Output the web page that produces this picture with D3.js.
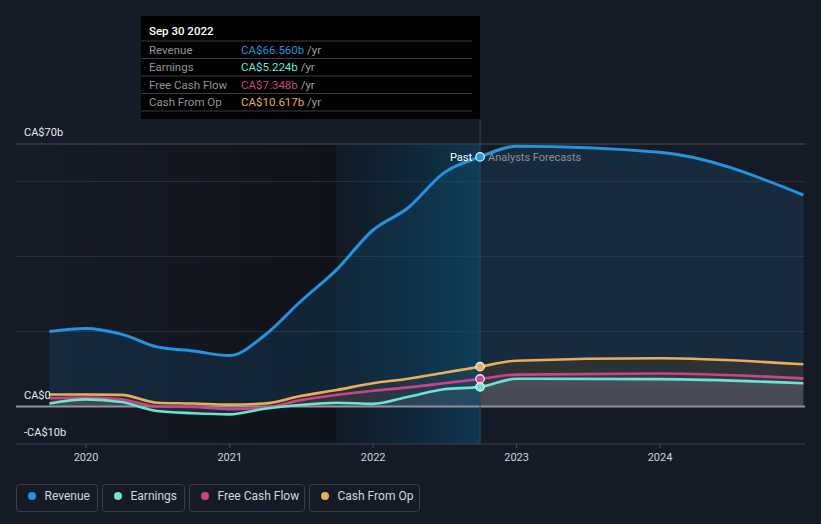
<!DOCTYPE html>
<html>
<head>
<meta charset="utf-8">
<script src="https://cdn.jsdelivr.net/npm/d3@7/dist/d3.min.js"></script>
<style>
  html, body { margin: 0; padding: 0; background: #151b26; }
  svg { display: block; font-family: Roboto, "Noto Sans", sans-serif; }
</style>
</head>
<body>
<svg id="chart" width="821" height="524"></svg>
<script>
// ---------- DATA ----------
const pastDates = ["2019-09-30","2019-12-31","2020-03-31","2020-06-30","2020-09-30","2020-12-31",
  "2021-03-31","2021-06-30","2021-09-30","2021-12-31","2022-03-31","2022-06-30","2022-09-30"];
const revenuePast  = [20.0, 20.8, 19.3, 15.9, 14.8, 13.6, 19.0, 28.0, 36.5, 47.0, 53.0, 62.3, 66.56];
const earningsPast = [0.8, 1.9, 1.2, -1.2, -1.8, -2.1, -0.6, 0.4, 1.0, 0.7, 2.6, 4.6, 5.224];
const fcfPast      = [2.2, 2.4, 1.9, 0.0, -0.1, -0.7, -0.3, 1.7, 3.1, 4.2, 5.1, 6.2, 7.348];
const cfoPast      = [3.2, 3.2, 3.1, 1.0, 0.8, 0.5, 0.8, 2.8, 4.4, 6.2, 7.4, 9.0, 10.617];

const forecastDates = ["2022-12-31","2023-12-31","2024-12-31"];
const revenueForecast  = [69.4, 67.8, 56.4];
const earningsForecast = [7.4, 7.3, 6.2];
const fcfForecast      = [8.5, 8.8, 7.5];
const cfoForecast      = [12.2, 12.85, 11.25];

const seriesNames = ["Revenue", "Earnings", "Free Cash Flow", "Cash From Op"];
const tooltipDate = "Sep 30 2022";
const tooltipValues = ["CA$66.560b", "CA$5.224b", "CA$7.348b", "CA$10.617b"];
const yGridValues = [60, 40, 20];
const yLabelValues = [70, 0, -10];
const yLabelText = ["CA$70b", "CA$0", "-CA$10b"];
const xTickYears = ["2020","2021","2022","2023","2024"];

// ---------- SETUP ----------
const colors = { rev: "#2394df", earn: "#6de4d2", fcf: "#c7468a", cfo: "#e9ae5b" };
const svg = d3.select("#chart");
const parse = d3.utcParse("%Y-%m-%d");
const plotL = 16, plotR = 805, plotT = 144, plotB = 444;

const x = d3.scaleUtc().domain([parse("2020-01-01"), parse("2024-01-01")]).range([86, 660]);
const y = d3.scaleLinear().domain([-10, 70]).range([plotB, plotT]);

function build(pv, fv) {
  const a = pastDates.map((d, i) => ({ date: parse(d), v: pv[i] }));
  const b = forecastDates.map((d, i) => ({ date: parse(d), v: fv[i] }));
  return a.concat(b);
}
const rev = build(revenuePast, revenueForecast);
const earn = build(earningsPast, earningsForecast);
const fcf = build(fcfPast, fcfForecast);
const cfo = build(cfoPast, cfoForecast);

const lastPast = parse(pastDates[pastDates.length - 1]);
const xPast = x(lastPast);
const xBand0 = x(parse("2021-09-30"));

const defs = svg.append("defs");
const g1 = defs.append("linearGradient").attr("id", "pastShade").attr("x1", "0").attr("x2", "1").attr("y1", "0").attr("y2", "0");
g1.append("stop").attr("offset", "0").attr("stop-color", "#000").attr("stop-opacity", 0);
g1.append("stop").attr("offset", "1").attr("stop-color", "#000").attr("stop-opacity", 0.3);
const g2 = defs.append("linearGradient").attr("id", "bandShade").attr("x1", "0").attr("x2", "1").attr("y1", "0").attr("y2", "0");
g2.append("stop").attr("offset", "0").attr("stop-color", "#0a3a52").attr("stop-opacity", 0.1);
g2.append("stop").attr("offset", "1").attr("stop-color", "#0a4f72").attr("stop-opacity", 0.6);
const g3 = defs.append("linearGradient").attr("id", "earnFill").attr("x1", "0").attr("x2", "0").attr("y1", "0").attr("y2", "1");
g3.append("stop").attr("offset", "0").attr("stop-color", "#8aa0ad").attr("stop-opacity", 0.25);
g3.append("stop").attr("offset", "1").attr("stop-color", "#8aa0ad").attr("stop-opacity", 0.12);

// background shading for past region
svg.append("rect").attr("x", plotL).attr("y", plotT).attr("width", xBand0 - plotL).attr("height", plotB - plotT)
  .attr("fill", "url(#pastShade)");
svg.append("rect").attr("x", xBand0).attr("y", plotT).attr("width", xPast - xBand0).attr("height", plotB - plotT)
  .attr("fill", "#0b0e13").attr("opacity", 0.3);

// gridlines
svg.selectAll(".grid").data(yGridValues).enter().append("line")
  .attr("x1", plotL).attr("x2", plotR).attr("y1", d => y(d)).attr("y2", d => y(d))
  .attr("stroke", "#262d39").attr("stroke-width", 1);
svg.append("line").attr("x1", plotL).attr("x2", plotR).attr("y1", y(70)).attr("y2", y(70))
  .attr("stroke", "#4a505a").attr("stroke-width", 1);

const curve = d3.curveMonotoneX;
const area = d3.area().x(d => x(d.date)).y0(y(0)).y1(d => y(d.v)).curve(curve);
const line = d3.line().x(d => x(d.date)).y(d => y(d.v)).curve(curve);

// areas
svg.append("path").attr("d", area(rev)).attr("fill", colors.rev).attr("fill-opacity", 0.13);
svg.append("path").attr("d", area(cfo)).attr("fill", "#6a4d1b").attr("fill-opacity", 0.25);
svg.append("path").attr("d", area(fcf)).attr("fill", "#764d7c").attr("fill-opacity", 0.15);
svg.append("path").attr("d", area(earn)).attr("fill", "url(#earnFill)");

// highlight band (last year of past)
svg.append("rect").attr("x", xBand0).attr("y", plotT + 0.5).attr("width", xPast - xBand0).attr("height", plotB - plotT - 0.5)
  .attr("fill", "url(#bandShade)");

// zero & bottom lines
svg.append("line").attr("x1", plotL).attr("x2", plotR).attr("y1", y(-10)).attr("y2", y(-10))
  .attr("stroke", "#3c424c").attr("stroke-width", 1);
svg.append("line").attr("x1", plotL).attr("x2", plotR).attr("y1", y(0)).attr("y2", y(0))
  .attr("stroke", "#8f949b").attr("stroke-width", 2);

// lines
svg.append("path").attr("d", line(cfo)).attr("fill", "none").attr("stroke", colors.cfo).attr("stroke-width", 2.6);
svg.append("path").attr("d", line(fcf)).attr("fill", "none").attr("stroke", colors.fcf).attr("stroke-width", 2.6);
svg.append("path").attr("d", line(earn)).attr("fill", "none").attr("stroke", colors.earn).attr("stroke-width", 2.6);
svg.append("path").attr("d", line(rev)).attr("fill", "none").attr("stroke", colors.rev).attr("stroke-width", 3);

// x axis
const xAxisG = svg.append("g").attr("transform", `translate(0,${plotB})`);
xAxisG.selectAll("line.tick").data(xTickYears).enter().append("line")
  .attr("x1", d => x(parse(d + "-01-01"))).attr("x2", d => x(parse(d + "-01-01")))
  .attr("y1", 0).attr("y2", 4).attr("stroke", "#4a505a");
xAxisG.selectAll("text").data(xTickYears).enter().append("text")
  .attr("x", d => x(parse(d + "-01-01"))).attr("y", 17)
  .attr("text-anchor", "middle").attr("font-size", 11).attr("fill", "#cfd3d8").text(d => d);

// y labels
svg.selectAll(".ylab").data(yLabelValues).enter().append("text")
  .attr("x", 24).attr("y", (d, i) => y(d) - 8)
  .attr("font-size", 11).attr("fill", "#e6e8ea").text((d, i) => yLabelText[i]);

// vertical divider line at Past
svg.append("line").attr("x1", xPast).attr("x2", xPast).attr("y1", 119).attr("y2", plotB)
  .attr("stroke", "#1f4d66").attr("stroke-width", 1);

// Past / Analysts Forecasts labels
svg.append("text").attr("x", xPast - 8).attr("y", y(66.56) + 4).attr("text-anchor", "end")
  .attr("font-size", 11).attr("fill", "#ffffff").text("Past");
svg.append("text").attr("x", xPast + 8).attr("y", y(66.56) + 4)
  .attr("font-size", 11).attr("fill", "#8c929a").text("Analysts Forecasts");

// markers
const lastVals = [
  { v: cfoPast[cfoPast.length - 1], c: colors.cfo },
  { v: fcfPast[fcfPast.length - 1], c: colors.fcf },
  { v: earningsPast[earningsPast.length - 1], c: colors.earn },
  { v: revenuePast[revenuePast.length - 1], c: colors.rev }
];
svg.selectAll(".mk").data(lastVals).enter().append("circle")
  .attr("cx", xPast).attr("cy", d => y(d.v)).attr("r", 4.2)
  .attr("fill", d => d.c).attr("stroke", "#e8eef2").attr("stroke-width", 1.3);

// tooltip
const tip = svg.append("g");
tip.append("rect").attr("x", 141).attr("y", 16).attr("width", xPast - 141).attr("height", 103).attr("fill", "#000");
tip.append("text").attr("x", 149).attr("y", 35).attr("font-size", 11.5).attr("font-weight", 500)
  .attr("fill", "#ffffff").text(tooltipDate);
const rowColors = [colors.rev, colors.earn, colors.fcf, colors.cfo];
const sepYs = [41, 58.5, 76, 93.5, 111];
tip.selectAll(".sep").data(sepYs).enter().append("line")
  .attr("x1", 141).attr("x2", xPast - 8).attr("y1", d => d).attr("y2", d => d)
  .attr("stroke", "#3a3d42").attr("stroke-width", 1);
seriesNames.forEach((name, i) => {
  const yy = 53.5 + i * 17.5;
  tip.append("text").attr("x", 149).attr("y", yy).attr("font-size", 11.5).attr("fill", "#8f949b").text(name);
  const t = tip.append("text").attr("x", 241).attr("y", yy).attr("font-size", 11.5);
  t.append("tspan").attr("fill", rowColors[i]).text(tooltipValues[i]);
  t.append("tspan").attr("fill", "#9aa0a6").text(" /yr");
});

// legend
const legendBoxes = [ { x: 16.5, w: 81 }, { x: 102.5, w: 82 }, { x: 189.5, w: 115 }, { x: 309.5, w: 110 } ];
const lg = svg.append("g");
seriesNames.forEach((name, i) => {
  const b = legendBoxes[i];
  lg.append("rect").attr("x", b.x).attr("y", 484.5).attr("width", b.w).attr("height", 27).attr("rx", 3)
    .attr("fill", "none").attr("stroke", "#3a404a").attr("stroke-width", 1);
  lg.append("circle").attr("cx", b.x + 15.5).attr("cy", 496).attr("r", 4).attr("fill", rowColors[i]);
  lg.append("text").attr("x", b.x + 28).attr("y", 500).attr("font-size", 12).attr("fill", "#d2d6db").text(name);
});
</script>
</body>
</html>
